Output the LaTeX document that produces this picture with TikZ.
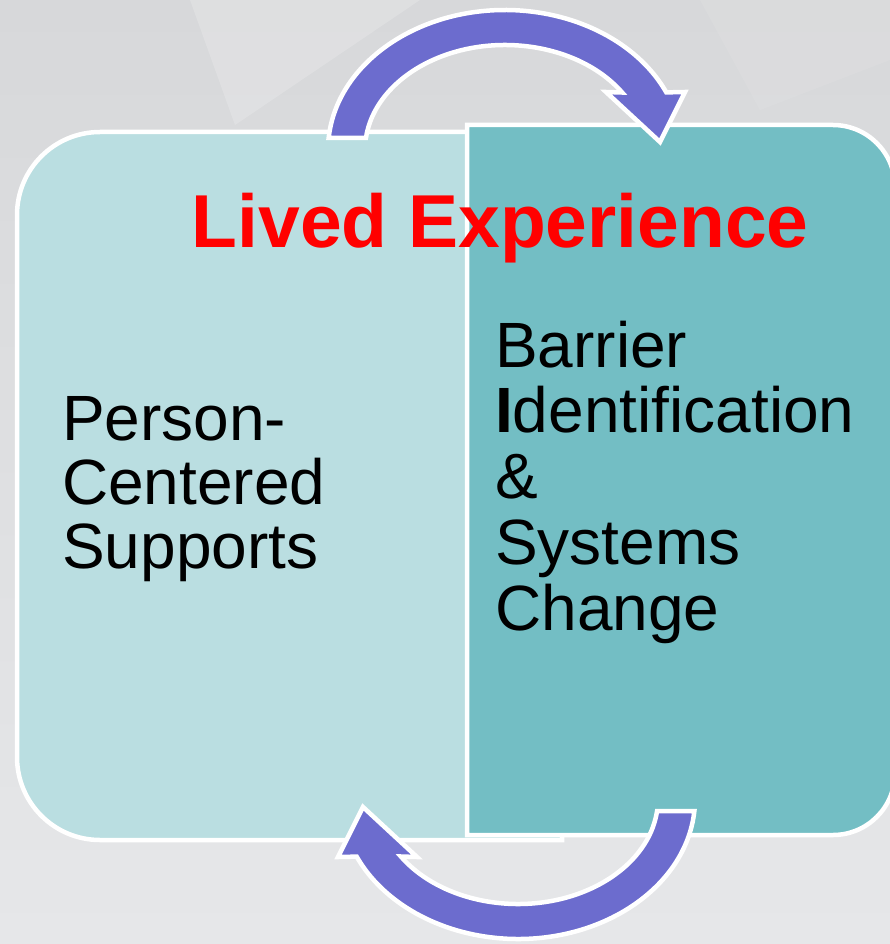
\documentclass[tikz,border=0pt]{standalone}
\usepackage{fontspec}
\setmainfont{Liberation Sans}
\definecolor{bgtop}{HTML}{D7D8DA}
\definecolor{bgbot}{HTML}{E6E7E9}
\definecolor{boxleft}{HTML}{BADEE1}
\definecolor{boxright}{HTML}{73BEC4}
\definecolor{arrowfill}{HTML}{6C6CCE}
\definecolor{titlered}{HTML}{FF0000}
\tikzset{
  panel/.style={draw=white, line width=4.5pt},
  cyclearrow/.style={fill=arrowfill, draw=white, line width=4.5pt, line join=miter},
  bodytext/.style={anchor=base west, inner sep=0pt, align=left, text=black},
  titletext/.style={anchor=base west, inner sep=0pt, text=titlered,
    font=\fontsize{75}{80}\selectfont\bfseries}
}
\begin{document}
\begin{tikzpicture}[x=1pt,y=-1pt]
\useasboundingbox (0,0) rectangle (890,944);
\clip (0,0) rectangle (890,944);
% background
\shade[top color=bgtop, bottom color=bgbot] (0,0) rectangle (890,944);
\fill[white, opacity=0.18] (190,0) -- (235,125) -- (420,0) -- cycle;
\fill[white, opacity=0.08] (700,0) -- (890,0) -- (890,60) -- (760,110) -- cycle;
% left panel
\path[panel, fill=boxleft] (562,132) -- (100,132)
  arc[start angle=90, end angle=180, radius=83pt] -- (17,757)
  arc[start angle=180, end angle=270, radius=83pt] -- (562,840) -- cycle;
% right panel
\path[panel, fill=boxright] (467,125) -- (833,125)
  arc[start angle=90, end angle=0, radius=62pt] -- (895,773)
  arc[start angle=0, end angle=-90, radius=62pt] -- (467,835) -- cycle;
% texts
\node[titletext] (title) at (191.5,247) {Lived Experience};
\node[bodytext, font=\fontsize{64}{64}\selectfont] (left) at (62,568) {Person-\\Centered\\Supports};
\node[bodytext, font=\fontsize{64}{65.75}\selectfont] (right) at (495,630) {Barrier\\\textbf{I}dentification\\\&\\Systems\\Change};
% cycle arrows
\path[cyclearrow] ({505+177*cos(175)},{150-140*sin(175)})
  arc[start angle=175, end angle=24.3, x radius=177pt, y radius=140pt]
  -- (685,92) -- (660,142) -- (606,92)
  -- ({505+140*cos(33.2)},{150-105*sin(33.2)})
  arc[start angle=33.2, end angle=173.4, x radius=140pt, y radius=105pt] -- cycle;
\begin{scope}[rotate around={180:(511.5,474.5)}]
\path[cyclearrow] ({505+177*cos(175)},{150-140*sin(175)})
  arc[start angle=175, end angle=24.3, x radius=177pt, y radius=140pt]
  -- (685,92) -- (660,142) -- (606,92)
  -- ({505+140*cos(33.2)},{150-105*sin(33.2)})
  arc[start angle=33.2, end angle=173.4, x radius=140pt, y radius=105pt] -- cycle;
\end{scope}
\end{tikzpicture}
\end{document}
